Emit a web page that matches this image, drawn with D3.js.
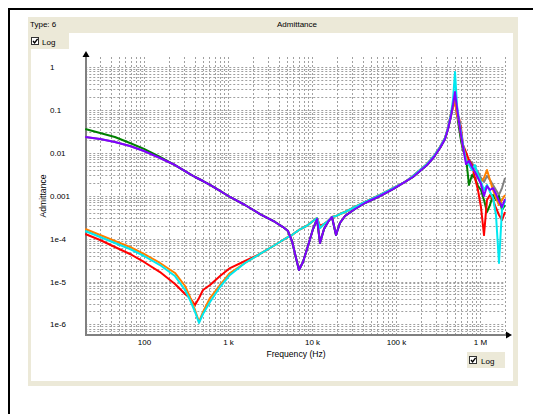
<!DOCTYPE html>
<html><head><meta charset="utf-8">
<script src="https://cdn.jsdelivr.net/npm/d3@7"></script>
<style>
body{margin:0;background:#fff;}
svg{display:block;font-family:"Liberation Sans",Arial,sans-serif;}
</style>
</head><body>
<svg id="chart" width="533" height="414"></svg>
<script>
// ---------------- data ----------------
const freqs = [20,30,45,68,100,155,234,308,353,405,452,504,611,804,1056,1594,2404,3630,4518,5180,5780,6450,7000,7810,8950,10280,11480,12450,13900,15500,17300,19300,21500,24700,32500,42700,64500,92000,128000,159000,193000,234000,283000,334000,383000,416000,451000,477000,504000,532000,562000,594000,628000,681000,739000,803000,871000,946000,1027000,1116000,1211000,1315000,1428000,1550000,1683000,1827000,1985000];

const grayY = [0.0234,0.0210,0.0179,0.0144,0.0110,0.00756,0.00519,0.00376,0.00320,0.00273,0.00245,0.00220,0.00178,0.00129,0.000933,0.000607,0.000374,0.000244,0.000186,0.000150,8.79e-5,3.53e-5,1.85e-5,2.85e-5,6.72e-5,0.000167,0.000286,7.9e-5,0.000167,0.000244,0.000319,0.000121,0.000231,0.000336,0.00049,0.000676,0.000984,0.00143,0.00209,0.00273,0.00376,0.00519,0.00798,0.0129,0.0210,0.0359,0.0721,0.130,0.170,0.0760,0.0379,0.0199,0.0116,0.00756,0.00679,0.00578,0.00442,0.00357,0.00259,0.00209,0.00288,0.00232,0.00178,0.00136,0.00104,0.00151,0.00259];

const greenY = [0.0359,0.0289,0.0234,0.0169,0.0123,0.00798,0.00519,0.00376,0.00320,0.00273,0.00245,0.00220,0.00178,0.00129,0.000933,0.000607,0.000374,0.000244,0.000186,0.000150,8.79e-5,3.53e-5,1.85e-5,2.85e-5,6.72e-5,0.000167,0.000286,7.9e-5,0.000167,0.000244,0.000319,0.000121,0.000231,0.000336,0.00049,0.000676,0.000984,0.00143,0.00209,0.00273,0.00376,0.00519,0.00798,0.0129,0.0210,0.0359,0.0721,0.130,0.153,0.0893,0.0421,0.0199,0.0116,0.00798,0.00178,0.00304,0.00259,0.00168,0.00136,0.000794,0.000417,0.000607,0.00104,0.000794,0.000984,0.000464,0.000607];

const redY = [0.000128,9.27e-5,6.37e-5,4.38e-5,2.85e-5,1.66e-5,8.74e-6,5.11e-6,4.12e-6,2.83e-6,4.12e-6,6.34e-6,8.29e-6,1.34e-5,2.06e-5,3.0e-5,4.38e-5,7.09e-5,9.27e-5,0.000109,0.000121,0.000142,0.000159,0.000177,0.000207,0.000257,0.000302,0.000197,0.000219,0.000257,0.000319,0.000336,0.000374,0.000417,0.000545,0.000713,0.00104,0.00151,0.00209,0.00288,0.00397,0.00548,0.00842,0.0136,0.0221,0.0379,0.0802,0.123,0.189,0.0847,0.0648,0.0379,0.0152,0.0104,0.00679,0.00519,0.00259,0.00136,0.000545,0.000121,0.000794,0.00104,0.000794,0.000517,0.000355,0.000271,0.000417];

const orangeY = [0.000167,0.000121,8.79e-5,6.37e-5,4.38e-5,2.7e-5,1.58e-5,7.85e-6,4.35e-6,2.17e-6,1.14e-6,1.95e-6,4.12e-6,8.29e-6,1.58e-5,2.7e-5,4.38e-5,7.09e-5,9.27e-5,0.000109,0.000121,0.000142,0.000159,0.000177,0.000207,0.000257,0.000302,0.000177,0.000219,0.000257,0.000319,0.000336,0.000374,0.000417,0.000545,0.000713,0.00104,0.00151,0.00209,0.00288,0.00397,0.00548,0.00842,0.0136,0.0221,0.0379,0.0802,0.111,0.170,0.0760,0.0522,0.0260,0.0129,0.00756,0.00519,0.00442,0.00357,0.00259,0.00209,0.00259,0.00397,0.00232,0.00136,0.000884,0.000607,0.000794,0.00104];

const cyanY = [0.000150,0.000109,7.9e-5,5.72e-5,3.93e-5,2.42e-5,1.34e-5,6.34e-6,3.7e-6,1.95e-6,1.08e-6,1.75e-6,3.33e-6,7.44e-6,1.42e-5,2.7e-5,4.38e-5,7.09e-5,9.27e-5,0.000109,0.000121,0.000142,0.000159,0.000177,0.000207,0.000257,0.000302,0.000177,0.000219,0.000257,0.000319,0.000336,0.000374,0.000417,0.000545,0.000713,0.00104,0.00151,0.00209,0.00288,0.00397,0.00548,0.00842,0.0136,0.0221,0.0379,0.0802,0.170,0.765,0.130,0.0582,0.0305,0.0152,0.00679,0.00519,0.00397,0.00519,0.00304,0.00209,0.00136,0.00178,0.00122,0.000884,0.000355,2.7e-5,0.000464,0.000794];

const purpleY = [0.0234,0.0210,0.0179,0.0144,0.0110,0.00756,0.00519,0.00376,0.00320,0.00273,0.00245,0.00220,0.00178,0.00129,0.000933,0.000607,0.000374,0.000244,0.000186,0.000150,8.79e-5,3.53e-5,1.85e-5,2.85e-5,6.72e-5,0.000167,0.000286,7.9e-5,0.000167,0.000244,0.000319,0.000121,0.000231,0.000336,0.00049,0.000676,0.000984,0.00143,0.00209,0.00273,0.00376,0.00519,0.00798,0.0129,0.0210,0.0359,0.0721,0.130,0.261,0.111,0.0522,0.0260,0.0136,0.00548,0.00644,0.00467,0.00357,0.00259,0.00187,0.000984,0.00168,0.00136,0.00151,0.0011,0.000752,0.000545,0.000838];

const xTickValues = [100,1e3,1e4,1e5,1e6];
const xTickLabels = ["100","1 k","10 k","100 k","1 M"];
const yTickValues = [1,0.1,0.01,0.001,1e-4,1e-5,1e-6];
const yTickLabels = ["1","0.1","0.01","0.001","1e-4","1e-5","1e-6"];
const xDomain = [20,2e6];
const yGridDomain = [6e-7,1];

const chartTitle = "Admittance";
const typeLabel = "Type: 6";
const xTitle = "Frequency (Hz)";
const yTitle = "Admittance";

// ---------------- drawing ----------------
const svg = d3.select("#chart");
const font = 8;
const titleFont = 8.6;

// window frame
svg.append("path").attr("d","M9,414V9H533").attr("fill","none").attr("stroke","#000").attr("stroke-width",2);
// panel
svg.append("rect").attr("x",28).attr("y",17).attr("width",490).attr("height",369).attr("fill","#ECE9D8");
svg.append("rect").attr("x",31).attr("y",33).attr("width",482).attr("height",348).attr("fill","#fff");
svg.append("rect").attr("x",31).attr("y",33).attr("width",38).attr("height",16).attr("fill","#ECE9D8");
svg.append("rect").attr("x",467).attr("y",352).attr("width",38).attr("height",16).attr("fill","#ECE9D8");

function checkbox(x,y){
  svg.append("rect").attr("x",x+0.5).attr("y",y+0.5).attr("width",7).attr("height",7)
     .attr("fill","#fff").attr("stroke","#333");
  svg.append("path").attr("d",`M${x+2},${y+4} l1.6,1.8 l3,-4`).attr("fill","none")
     .attr("stroke","#000").attr("stroke-width",1.4);
}
checkbox(31,37);
svg.append("text").attr("x",42).attr("y",45).attr("font-size",font).attr("fill","#000").text("Log");
checkbox(469,356);
svg.append("text").attr("x",481).attr("y",364).attr("font-size",font).attr("fill","#000").text("Log");

svg.append("text").attr("x",30).attr("y",27).attr("font-size",font).attr("fill","#000").text(typeLabel);
svg.append("text").attr("x",297).attr("y",27).attr("font-size",font).attr("text-anchor","middle").attr("fill","#000").text(chartTitle);

// scales
const x = d3.scaleLog().domain([100,1e6]).range([144,480]);
const y = d3.scaleLog().domain([1e-6,1]).range([324.4,67]);
const xLeft = x(xDomain[0]), xRight = x(xDomain[1]);
const yBottom = 335, yTop = 57;

// grid
const grid = svg.append("g").attr("stroke","#a0a0a0").attr("stroke-width",1).attr("stroke-dasharray","2,2").attr("fill","none");
const xGridVals = [];
for (let e=1;e<=6;e++) for (let k=1;k<=9;k++){ const v=k*Math.pow(10,e); if (v>=xDomain[0]*0.999 && v<=xDomain[1]*1.001) xGridVals.push(v); }
grid.selectAll("line.v").data(xGridVals).join("line").attr("class","v")
  .attr("x1",d=>Math.round(x(d))+0.5).attr("x2",d=>Math.round(x(d))+0.5)
  .attr("y1",yTop).attr("y2",yBottom);
const yGridVals = [];
for (let e=-7;e<=0;e++) for (let k=1;k<=9;k++){ const v=k*Math.pow(10,e); if (v>=yGridDomain[0]*0.999 && v<=yGridDomain[1]*1.001) yGridVals.push(v); }
grid.selectAll("line.h").data(yGridVals).join("line").attr("class","h")
  .attr("x1",xLeft).attr("x2",xRight)
  .attr("y1",d=>Math.round(y(d))+0.5).attr("y2",d=>Math.round(y(d))+0.5);

// axes lines
svg.append("line").attr("x1",86).attr("x2",86).attr("y1",56).attr("y2",yBottom+1).attr("stroke","#808080").attr("stroke-width",2);
svg.append("line").attr("x1",85).attr("x2",506).attr("y1",yBottom).attr("y2",yBottom).attr("stroke","#808080").attr("stroke-width",2);
svg.append("path").attr("d","M86,51 L82.5,57 L89.5,57 Z").attr("fill","#000");
svg.append("path").attr("d","M512,335 L506,331.5 L506,338.5 Z").attr("fill","#000");

// axis labels via d3 axes
const xAxis = d3.axisBottom(x).tickValues(xTickValues).tickFormat((d,i)=>xTickLabels[i]).tickSize(0).tickPadding(4);
const gx = svg.append("g").attr("transform",`translate(0,${yBottom})`).call(xAxis);
gx.select(".domain").remove();
gx.selectAll("text").attr("font-size",font).attr("font-family","Liberation Sans, Arial, sans-serif").attr("fill","#000");

const yAxis = d3.axisLeft(y).tickValues(yTickValues).tickFormat((d,i)=>yTickLabels[i]).tickSize(0);
const gy = svg.append("g").attr("transform","translate(86,0)").call(yAxis);
gy.select(".domain").remove();
gy.selectAll("text").attr("x",-36).attr("text-anchor","start").attr("font-size",font)
  .attr("font-family","Liberation Sans, Arial, sans-serif").attr("fill","#000");

svg.append("text").attr("x",296).attr("y",357).attr("text-anchor","middle").attr("font-size",titleFont).attr("fill","#000").text(xTitle);
svg.append("text").attr("transform","translate(46,196) rotate(-90)").attr("text-anchor","middle").attr("font-size",titleFont).attr("fill","#000").text(yTitle);

// series
const series = [
  {values: grayY, color:"#808080"},
  {values: greenY, color:"#008000"},
  {values: redY, color:"#ff0000"},
  {values: orangeY, color:"#ff8000"},
  {values: cyanY, color:"#00e8f0"},
  {values: purpleY, color:"#8000ff"}
];
const line = d3.line().x(d=>x(d[0])).y(d=>y(d[1]));
svg.append("g").selectAll("path").data(series).join("path")
  .attr("d",s=>line(freqs.map((f,i)=>[f,s.values[i]])))
  .attr("fill","none").attr("stroke",s=>s.color).attr("stroke-width",2).attr("stroke-linejoin","round");
</script>
</body></html>
